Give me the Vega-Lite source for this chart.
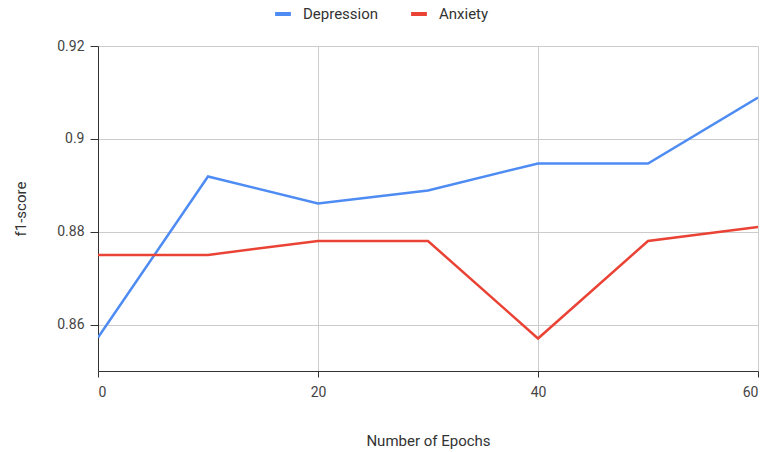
{
  "$schema": "https://vega.github.io/schema/vega-lite/v6.json",
  "autosize": {"type": "none"},
  "width": 660,
  "height": 325,
  "padding": {"left": 98, "top": 46, "right": 11, "bottom": 81},
  "config": {
    "font": "Roboto",
    "view": {"stroke": null},
    "axis": {"labelFont": "Roboto", "titleFont": "Roboto", "labelColor": "#444", "titleColor": "#333", "labelFontSize": 14, "titleFontSize": 15, "titleFontWeight": "normal", "gridColor": "#cccccc", "domainColor": "#333", "tickColor": "#333"}
  },
  "data": {
    "values": [
      {"epoch": 0, "series": "Depression", "f1": 0.8572},
      {"epoch": 10, "series": "Depression", "f1": 0.8919},
      {"epoch": 20, "series": "Depression", "f1": 0.8861},
      {"epoch": 30, "series": "Depression", "f1": 0.8889},
      {"epoch": 40, "series": "Depression", "f1": 0.8947},
      {"epoch": 50, "series": "Depression", "f1": 0.8947},
      {"epoch": 60, "series": "Depression", "f1": 0.9089},
      {"epoch": 0, "series": "Anxiety", "f1": 0.875},
      {"epoch": 10, "series": "Anxiety", "f1": 0.875},
      {"epoch": 20, "series": "Anxiety", "f1": 0.878},
      {"epoch": 30, "series": "Anxiety", "f1": 0.878},
      {"epoch": 40, "series": "Anxiety", "f1": 0.857},
      {"epoch": 50, "series": "Anxiety", "f1": 0.878},
      {"epoch": 60, "series": "Anxiety", "f1": 0.881}
    ]
  },
  "mark": {"type": "line", "strokeWidth": 2.5, "clip": true},
  "encoding": {
    "x": {
      "field": "epoch", "type": "quantitative",
      "scale": {"domain": [0, 60], "nice": false},
      "axis": {"values": [0, 20, 40, 60], "title": "Number of Epochs", "titlePadding": 34, "labelPadding": 8, "tickSize": 6}
    },
    "y": {
      "field": "f1", "type": "quantitative",
      "scale": {"domain": [0.85, 0.92], "nice": false, "zero": false},
      "axis": {"values": [0.86, 0.88, 0.9, 0.92], "format": ".2~f", "title": "f1-score", "titlePadding": 28, "labelPadding": 6, "tickSize": 8}
    },
    "color": {
      "field": "series", "type": "nominal",
      "scale": {"domain": ["Depression", "Anxiety"], "range": ["#4e8cf3", "#ea4335"]},
      "legend": {
        "title": null, "orient": "none", "direction": "horizontal",
        "legendX": 175, "legendY": -42,
        "symbolType": "stroke", "symbolStrokeWidth": 4, "symbolSize": 250,
        "labelFont": "Roboto", "labelFontSize": 15, "labelColor": "#333",
        "columnPadding": 24, "labelOffset": 10
      }
    }
  }
}
